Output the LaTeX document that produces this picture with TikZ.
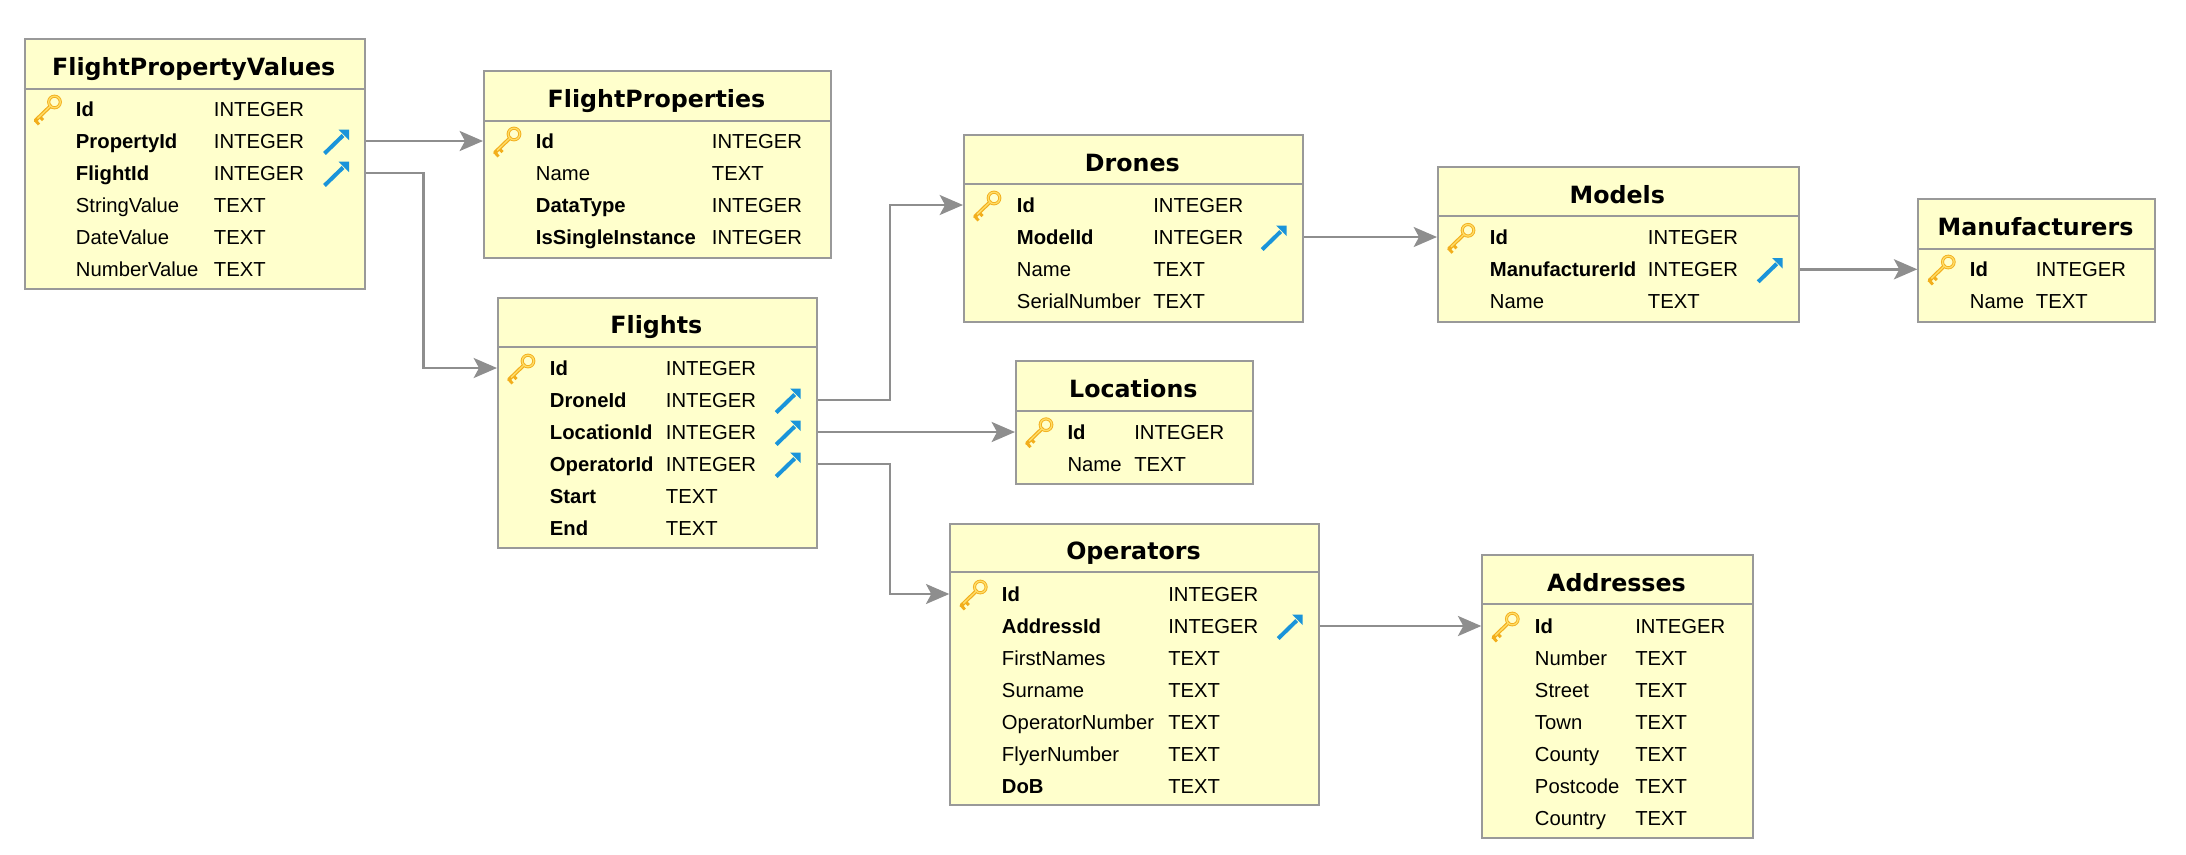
\documentclass[tikz,border=0pt]{standalone}
\usepackage{fontspec}
\setmainfont{Liberation Sans}
\newfontfamily\titlefont{DejaVu Sans}[BoldFont={DejaVu Sans Bold}]
\usetikzlibrary{arrows.meta}
\definecolor{boxfill}{HTML}{FFFFCC}
\definecolor{boxline}{HTML}{999999}
\definecolor{connline}{HTML}{8E8E8E}
\definecolor{keydark}{HTML}{F2AE1C}
\definecolor{keylight}{HTML}{FFDD66}
\definecolor{fkblue}{HTML}{1A94DA}
\tikzset{
  x=0.75pt,y=-0.75pt,
  tablebox/.style={draw=boxline,fill=boxfill,line width=1.6pt,inner sep=0pt,anchor=north west},
  headline/.style={draw=boxline,line width=1.5pt},
  titletext/.style={font=\titlefont\bfseries\fontsize{17.8pt}{20pt}\selectfont,inner sep=0pt,anchor=center,text height=13pt,text depth=0pt},
  celltext/.style={font=\fontsize{15.2pt}{18pt}\selectfont,inner sep=0pt,anchor=west,text height=11pt,text depth=0pt},
  conn/.style={draw=connline,line width=2.2pt,-{Stealth[length=17.5pt,width=15pt,inset=4pt]}},
  connbent/.style={conn,line width=1.7pt},
}
\newcommand\fnK{\bfseries}
\newcommand\fnF{\bfseries}
\newcommand\fnB{\bfseries}
\newcommand\fnR{}
\newcommand\icK[1]{%
  \begin{scope}[shift={(\curl+31,#1-7)}]
    \draw[keydark,line width=2.3pt] (0,0) circle (5.8);
    \draw[keydark,line width=2.8pt,line cap=round] (-4,4) -- (-19,18.5);
    \draw[keydark,line width=2.2pt] (-15,14.5) -- (-11.5,18);
    \draw[keydark,line width=2.2pt] (-19.5,18) -- (-15.5,22.5);
    \draw[keylight,line width=1pt] (0,0) circle (5.8);
    \draw[keylight,line width=1pt] (-4,4) -- (-17,16.5);
  \end{scope}}
\newcommand\icF[1]{%
  \begin{scope}[shift={(\curr,#1)}]
    \draw[fkblue,line width=3pt] (-39.5,12.5) -- (-21,-5.5);
    \fill[fkblue] (-25.5,-11.3) -- (-15,-11.3) -- (-15,-0.8) -- cycle;
  \end{scope}}
\newcommand\icB[1]{}
\newcommand\icR[1]{}
% name, left, right, top, bottom, header rule, first row, name column, type column
\newcommand\dbtable[9]{%
  \def\curname{#1}\def\curl{#2}\def\curr{#3}\def\curt{#4}\def\curh{#6}\def\curf{#7}\def\curnx{#8}\def\curtx{#9}%
  \pgfmathsetmacro\curw{#3-#2}\pgfmathsetmacro\curhh{#5-#4}%
  \node[tablebox,minimum width=\curw*0.75pt,minimum height=\curhh*0.75pt] (#1) at (#2,#4) {};
  \draw[headline] (#2,#6) -- (#3,#6);
}
\newcommand\dbrows[2]{%
  \pgfmathsetmacro\curcx{(\curl+\curr)/2}\pgfmathsetmacro\curty{\curt+28.5}%
  \node[titletext] (\curname-title) at (\curcx,\curty) {#1};
  \foreach \fd/\ty/\fl [count=\idx] in {#2} {
    \pgfmathsetmacro\ry{\curf+32*(\idx-1)}
    \node[celltext] (\curname-\idx) at (\curnx,\ry) {\csname fn\fl\endcsname \fd};
    \node[celltext] (\curname-\idx t) at (\curtx,\ry) {\ty};
    \csname ic\fl\endcsname{\ry}
  }
}
\begin{document}
\begin{tikzpicture}
\useasboundingbox (1,0) rectangle (2187,854);

\dbtable{fpv}{24.5}{365}{38}{288}{88.5}{109}{76.7}{214.7}
\dbrows{FlightPropertyValues}{Id/INTEGER/K,PropertyId/INTEGER/F,FlightId/INTEGER/F,StringValue/TEXT/R,DateValue/TEXT/R,NumberValue/TEXT/R}

\dbtable{fp}{484}{831}{70.3}{256.7}{120.7}{141}{536.7}{712.7}
\dbrows{FlightProperties}{Id/INTEGER/K,Name/TEXT/R,DataType/INTEGER/B,IsSingleInstance/INTEGER/B}

\dbtable{fl}{498}{816.7}{296.7}{546.7}{346.5}{368}{550.7}{666.7}
\dbrows{Flights}{Id/INTEGER/K,DroneId/INTEGER/F,LocationId/INTEGER/F,OperatorId/INTEGER/F,Start/TEXT/B,End/TEXT/B}

\dbtable{dr}{964}{1302.7}{134.3}{320.7}{184.3}{205}{1017.7}{1154}
\dbrows{Drones}{Id/INTEGER/K,ModelId/INTEGER/F,Name/TEXT/R,SerialNumber/TEXT/R}

\dbtable{mo}{1438}{1798.7}{166}{320.7}{216.3}{237.3}{1490.7}{1648.7}
\dbrows{Models}{Id/INTEGER/K,ManufacturerId/INTEGER/F,Name/TEXT/R}

\dbtable{ma}{1918.3}{2154.7}{198}{320.7}{249}{269}{1970.7}{2036.7}
\dbrows{Manufacturers}{Id/INTEGER/K,Name/TEXT/R}

\dbtable{lo}{1016}{1252.7}{360.3}{482.7}{410.7}{431.7}{1068.3}{1135}
\dbrows{Locations}{Id/INTEGER/K,Name/TEXT/R}

\dbtable{op}{950.3}{1318.7}{522.7}{804.3}{572.3}{594}{1002.7}{1169}
\dbrows{Operators}{Id/INTEGER/K,AddressId/INTEGER/F,FirstNames/TEXT/R,Surname/TEXT/R,OperatorNumber/TEXT/R,FlyerNumber/TEXT/R,DoB/TEXT/B}

\dbtable{ad}{1482.3}{1752.7}{554}{836.7}{604.3}{626}{1535.7}{1636}
\dbrows{Addresses}{Id/INTEGER/K,Number/TEXT/R,Street/TEXT/R,Town/TEXT/R,County/TEXT/R,Postcode/TEXT/R,Country/TEXT/R}

\coordinate (bendA) at (424.5,0);
\coordinate (bendB) at (890.7,0);

\draw[conn] (fpv-2 -| fpv.east) -- (fpv-2 -| fp.west);
\draw[connbent] (fpv-3 -| fpv.east) -- (fpv-3 -| bendA) -- (fl-1 -| bendA) -- (fl-1 -| fl.west);
\draw[connbent] (fl-2 -| fl.east) -- (fl-2 -| bendB) -- (dr-1 -| bendB) -- (dr-1 -| dr.west);
\draw[conn] (fl-3 -| fl.east) -- (fl-3 -| lo.west);
\draw[connbent] (fl-4 -| fl.east) -- (fl-4 -| bendB) -- (op-1 -| bendB) -- (op-1 -| op.west);
\draw[connbent] (dr-2 -| dr.east) -- (dr-2 -| mo.west);
\draw[conn] (mo-2 -| mo.east) -- (mo-2 -| ma.west);
\draw[conn] (op-2 -| op.east) -- (op-2 -| ad.west);
\end{tikzpicture}
\end{document}
